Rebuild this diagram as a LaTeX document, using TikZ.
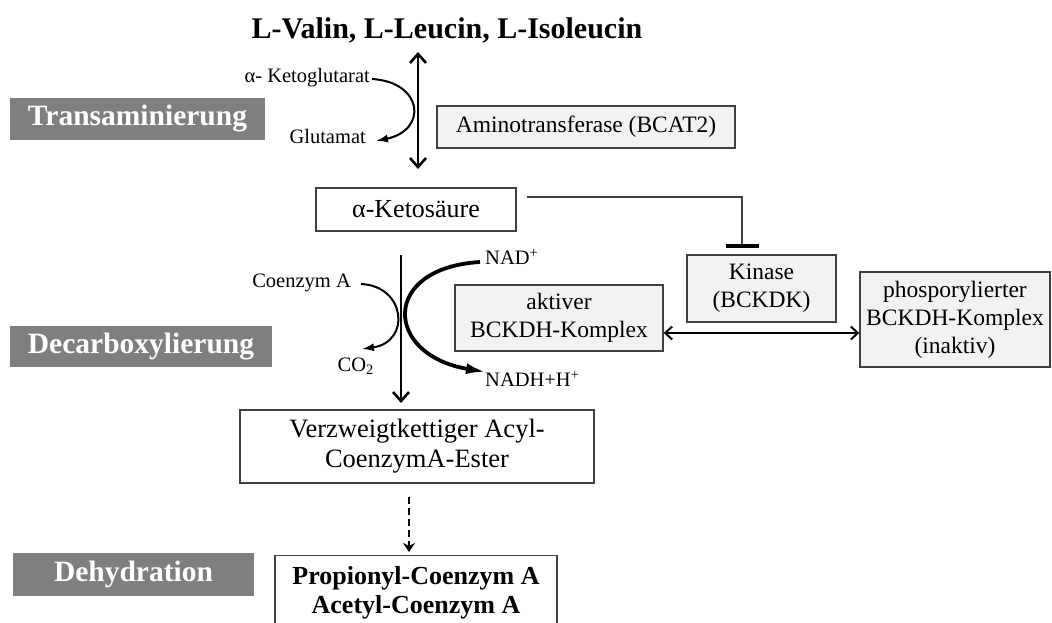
\documentclass[tikz,border=0pt]{standalone}
\usepackage{fontspec}
\setmainfont{Liberation Serif}
\usetikzlibrary{arrows.meta}
\definecolor{boxgray}{HTML}{F2F2F2}
\definecolor{labgray}{HTML}{7F7F7F}
\definecolor{edgegray}{HTML}{404040}
\tikzset{
  barb/.tip={Straight Barb[length=9pt,width=16pt,line width=2.6pt]},
  sbarb/.tip={Straight Barb[length=7pt,width=13pt,line width=2pt]}
}
\begin{document}
\begin{tikzpicture}[x=1pt,y=-1pt,
  lab/.style={fill=labgray,draw=none,text=white,font=\fontsize{29.5}{32}\selectfont\bfseries,inner sep=0pt},
  wbox/.style={draw=edgegray,line width=1.4pt,fill=white,font=\fontsize{23.5}{28}\selectfont,align=center,inner sep=0pt},
  gbox/.style={wbox,fill=boxgray},
  small/.style={font=\fontsize{20.5}{23}\selectfont,inner sep=0pt},
  mainarrow/.style={line width=2.6pt,-barb},
  curvearrow/.style={line width=2pt,-{Latex[length=12pt,width=8pt]}}
]
\clip (0,0) rectangle (1052,623);
\fill[white] (0,0) rectangle (1052,623);

% title
\node[font=\fontsize{30}{32}\selectfont\bfseries,inner sep=0pt] (title) at (447,30) {L-Valin, L-Leucin, L-Isoleucin};

% stage labels
\node[lab,minimum width=255pt,minimum height=42pt] (trans) at (137.5,119) {Transaminierung};
\node[lab,minimum width=262pt,minimum height=41pt] (decarb) at (141,346.5) {Decarboxylierung};
\node[lab,minimum width=241pt,minimum height=43pt] (dehyd) at (133.5,574.5) {Dehydration};

% boxes
\node[gbox,minimum width=298pt,minimum height=42pt] (amino) at (586,127) {Aminotransferase (BCAT2)};
\node[wbox,minimum width=200pt,minimum height=43pt,font=\fontsize{26}{28}\selectfont] (keto) at (416,209.5) {α-Ketosäure};
\node[gbox,minimum width=149pt,minimum height=67pt] (kinase) at (761.5,288.5) {Kinase\\(BCKDK)};
\node[gbox,minimum width=208pt,minimum height=66pt] (aktiv) at (559,318) {aktiver\\BCKDH-Komplex};
\node[gbox,minimum width=190pt,minimum height=95pt] (phos) at (955,319.5) {phosporylierter\\BCKDH-Komplex\\(inaktiv)};
\node[wbox,minimum width=354pt,minimum height=73pt,font=\fontsize{26.5}{30}\selectfont] (verz) at (417,446.5) {Verzweigtkettiger Acyl-\\CoenzymA-Ester};
\node[wbox,minimum width=282pt,minimum height=80pt,anchor=north] (prop) at (416,555) {};
\node[font=\fontsize{26}{29}\selectfont\bfseries,align=center,inner sep=0pt] (proptext) at (416,593) {Propionyl-Coenzym A\\Acetyl-Coenzym A};

% small labels
\node[small,anchor=east] (kg) at (370,78) {α- Ketoglutarat};
\node[small,anchor=east] (glu) at (366,136) {Glutamat};
\node[small,anchor=east] (coa) at (351,283) {Coenzym A};
\node[small,anchor=east] (co2) at (374,366) {CO\textsubscript{2}};
\node[small,anchor=west] (nad) at (485,257) {NAD\textsuperscript{+}};
\node[small,anchor=west] (nadh) at (485,379) {NADH+H\textsuperscript{+}};

% coordinates
\coordinate (t1) at (418,52);
\coordinate (t2) at (418,169);
\coordinate (m1) at (401,255);
\coordinate (m2) at (401,403);
\coordinate (d1) at (409,497);
\coordinate (d2) at (409,552);
\coordinate (inhA) at (527,197);
\coordinate (inhB) at (742,197);
\coordinate (inhC) at (742,246);

% transamination arrow
\draw[line width=2.6pt,barb-barb] (t1) -- (t2);
\draw[curvearrow] (kg.east) ++(2,1) .. controls (423,82) and (428,130) .. (376,141);

% decarboxylation
\draw[mainarrow] (m1) -- (m2);
\draw[curvearrow] (coa.east) ++(10,1) .. controls (406,286) and (411,342) .. (362,349);
\draw[line width=3.8pt,-{Latex[length=20pt,width=11pt]}] (nad.west) ++(-5,5) .. controls (380,268) and (384,355) .. (486,372);

% inhibition
\draw[line width=1.4pt,edgegray] (inhA) -- (inhB) -- (inhC);
\draw[line width=3.5pt] (726,246) -- (759,246);

% phosphorylation equilibrium
\draw[line width=2pt,sbarb-sbarb] (aktiv.east |- 0,333) -- (phos.west |- 0,333);

% dashed arrow
\draw[line width=2.6pt,dash pattern=on 7pt off 4pt,-{Stealth[length=9pt,width=12pt]}] (d1) -- (d2);
\end{tikzpicture}
\end{document}
